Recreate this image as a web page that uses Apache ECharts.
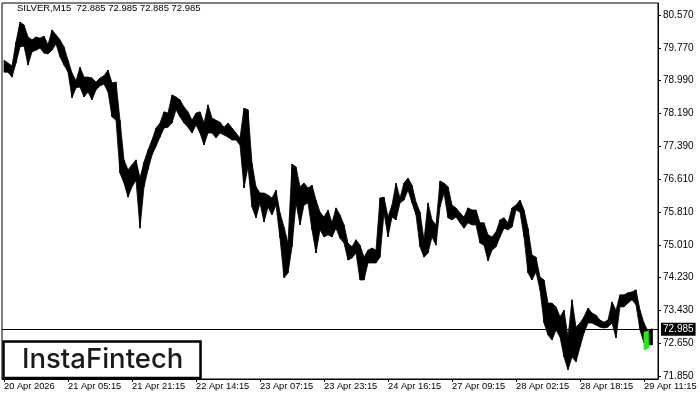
<!DOCTYPE html>
<html><head><meta charset="utf-8">
<script src="https://cdn.jsdelivr.net/npm/echarts@6/dist/echarts.min.js"></script>
<style>html,body{margin:0;padding:0;background:#fff}#c{width:700px;height:400px}</style>
</head><body><div id="c"></div>
<script>
// Tick labels
const xTickLabels = ['20 Apr 2026','21 Apr 05:15','21 Apr 21:15','22 Apr 14:15','23 Apr 07:15','23 Apr 23:15','24 Apr 16:15','27 Apr 09:15','28 Apr 02:15','28 Apr 18:15','29 Apr 11:15'];
const yTickValues = [80.57, 79.77, 78.99, 78.19, 77.39, 76.61, 75.81, 75.01, 74.23, 73.43, 72.65, 71.85];

// Hourly (4 x M15) high / low envelope
const barHigh = [
79.48,79.41,79.34,79.92,80.40,80.33,80.04,79.97,80.04,80.01,
80.06,79.85,80.21,80.09,79.97,79.80,79.48,79.17,78.98,79.31,
79.07,79.07,79.05,78.95,79.05,79.10,79.24,78.93,78.95,78.03,
77.07,76.83,76.95,77.07,76.63,77.02,77.31,77.55,77.84,77.96,
78.23,78.20,78.64,78.59,78.52,78.35,78.23,78.03,78.20,78.23,
77.96,78.40,78.08,78.03,77.98,77.86,77.96,77.84,77.72,77.60,
78.32,78.28,76.99,76.42,76.27,76.27,76.22,76.15,76.34,75.79,
75.45,75.06,76.97,76.90,76.42,76.51,76.39,76.46,76.10,75.81,
75.69,75.86,75.55,75.91,75.74,75.50,75.06,74.97,75.14,75.01,
74.72,74.89,74.94,74.89,76.15,76.17,75.69,75.98,76.51,76.15,
76.51,76.63,76.46,76.05,75.81,75.14,76.03,75.62,75.50,76.56,
76.51,76.42,75.98,75.91,75.79,75.69,75.91,75.86,75.86,75.55,
75.55,75.26,75.21,75.33,75.62,75.67,75.55,75.91,75.98,76.10,
75.86,75.42,74.77,74.72,74.24,74.17,73.61,73.61,73.52,73.28,
73.44,72.79,73.69,73.03,73.13,73.28,73.49,73.37,73.32,73.20,
73.15,73.20,73.64,73.44,73.81,73.81,73.86,73.88,73.93,73.44,
73.13,72.93,72.99];
const barLow = [
79.19,79.19,79.07,79.41,79.80,79.82,79.36,79.68,79.72,79.77,
79.65,79.63,79.72,79.87,79.56,79.36,79.19,78.57,78.81,78.83,
78.59,78.71,78.52,78.76,78.86,78.90,78.71,78.11,78.03,76.75,
76.51,76.17,76.42,76.58,75.42,76.42,76.83,77.19,77.40,77.62,
77.84,77.86,77.96,78.28,78.11,77.96,77.86,77.72,77.91,77.72,
77.43,77.72,77.72,77.60,77.72,77.67,77.62,77.55,77.55,77.43,
76.39,76.90,75.93,75.67,76.03,75.57,75.93,75.74,75.98,75.18,
74.22,74.34,74.97,76.03,75.50,75.98,76.03,75.38,74.82,75.38,
75.21,75.26,75.21,75.42,75.18,75.06,74.65,74.70,74.82,74.17,
74.17,74.58,74.58,74.58,74.72,75.79,75.21,75.69,75.62,76.03,
76.10,76.34,76.03,75.74,74.97,74.72,74.82,75.21,75.01,75.93,
76.27,75.67,75.62,75.69,75.55,75.42,75.55,75.50,75.50,75.06,
75.01,74.63,74.89,74.97,75.21,75.42,75.38,75.45,75.86,75.81,
75.21,74.34,74.17,74.36,73.93,73.13,72.84,72.72,72.96,72.79,
72.31,72.00,72.31,72.19,72.55,72.89,73.13,73.13,73.08,73.03,
73.01,73.03,73.13,72.77,73.52,73.52,73.61,73.69,73.57,72.96,
72.65,72.60,72.60];

// Green pattern marker bars
const patternStart = 160;
const patternHigh = [72.91, 72.93];
const patternLow = [72.48, 72.52];

const lastPrice = 72.985;
const titleText = 'SILVER,M15  72.885 72.985 72.885 72.985';
const categoryCount = 164;
const labelEvery = 16;

const cats = [];
for (let i = 0; i < categoryCount; i++) cats.push(String(i));
const mainData = barHigh.map((h, i) => [i, h, barLow[i]]);
const greenData = patternHigh.map((h, i) => [patternStart + i, h, patternLow[i]]);

function bandRenderer(arr, color) {
  return function (params, api) {
    const i = params.dataIndex;
    const cur = arr[i], nxt = arr[i + 1];
    const a = api.coord([cur[0], cur[1]]), b = api.coord([cur[0], cur[2]]);
    if (!nxt) {
      return {type: 'line', shape: {x1: a[0], y1: a[1], x2: b[0], y2: b[1]}, style: {stroke: color, lineWidth: 1.5}};
    }
    const c = api.coord([nxt[0], nxt[1]]), d = api.coord([nxt[0], nxt[2]]);
    return {type: 'polygon', shape: {points: [a, c, d, b]}, style: {fill: color, stroke: color, lineWidth: 0.8}};
  };
}

const FONT = 'Liberation Sans, Arial, sans-serif';
const chart = echarts.init(document.getElementById('c'), null, {renderer: 'canvas'});
chart.setOption({
  animation: false,
  backgroundColor: '#fff',
  grid: {left: 2, right: 42, top: 3, bottom: 21, show: true, borderColor: '#000', borderWidth: 1, backgroundColor: '#fff'},
  xAxis: {
    type: 'category', data: cats, boundaryGap: true,
    axisLine: {lineStyle: {color: '#000', width: 1}},
    axisTick: {show: true, alignWithLabel: true, interval: labelEvery - 1, length: 3, lineStyle: {color: '#000'}},
    axisLabel: {interval: labelEvery - 1, align: 'left', margin: 3, fontSize: 9.3, fontFamily: FONT, color: '#000',
      formatter: (v, idx) => xTickLabels[idx / labelEvery] || ''},
    splitLine: {show: false}
  },
  yAxis: {
    type: 'value', position: 'right', min: 71.777, max: 80.86, scale: true,
    axisLine: {show: true, lineStyle: {color: '#000', width: 1}},
    axisTick: {show: true, length: 3, lineStyle: {color: '#000'}, customValues: yTickValues},
    axisLabel: {customValues: yTickValues, fontSize: 10, fontFamily: FONT, color: '#000', margin: 5,
      formatter: v => v.toFixed(3)},
    splitLine: {show: false}
  },
  series: [
    {
      type: 'custom', name: 'SILVER', renderItem: bandRenderer(mainData, '#000'),
      encode: {x: 0, y: [1, 2]}, data: mainData, clip: true, z: 2,
      markLine: {
        silent: true, symbol: ['none', 'none'], animation: false,
        data: [{yAxis: lastPrice}],
        lineStyle: {color: '#000', type: 'solid', width: 1},
        label: {show: true, position: 'end', distance: 3, formatter: lastPrice.toFixed(3), color: '#fff',
          backgroundColor: '#000', fontSize: 10, fontFamily: FONT, padding: [2, 2, 1, 2]}
      }
    },
    {
      type: 'custom', name: 'pattern', renderItem: bandRenderer(greenData, '#22ee11'),
      encode: {x: 0, y: [1, 2]}, data: greenData, z: 3
    }
  ],
  graphic: [
    {type: 'text', left: 17, top: 3, style: {text: titleText, fontSize: 9.5, fontFamily: FONT, fill: '#000'}},
    {type: 'rect', shape: {x: 3.5, y: 341.5, width: 197, height: 36.5}, style: {fill: '#fff', stroke: '#000', lineWidth: 2.5}, z: 10},
    {type: 'text', x: 22, y: 360, style: {text: 'InstaFintech', fontSize: 27.5, fontWeight: 500, fontFamily: 'Inter, Lato, sans-serif', fill: '#1a1a1a', verticalAlign: 'middle'}, z: 11}
  ]
});
</script>
</body></html>
